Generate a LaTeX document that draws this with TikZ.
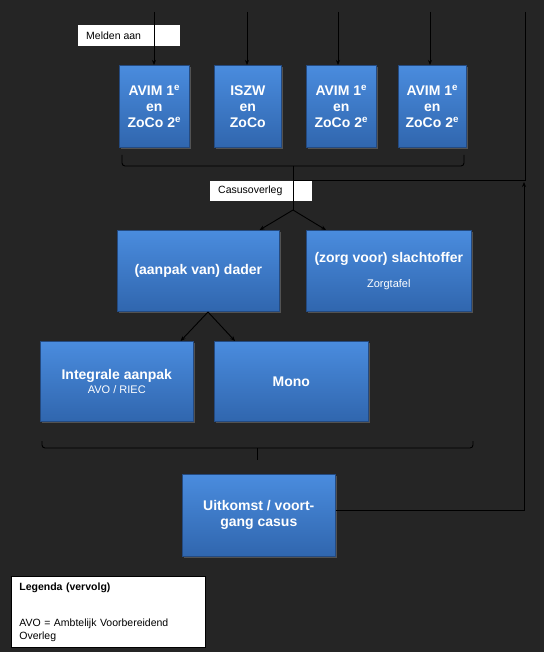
\documentclass[tikz,border=0pt]{standalone}
\usepackage{fontspec}
\setmainfont{Liberation Sans}
\usetikzlibrary{arrows.meta,shadows}
\definecolor{bgdark}{RGB}{37,37,37}
\definecolor{boxtop}{RGB}{74,140,222}
\definecolor{boxbot}{RGB}{48,102,174}
\definecolor{boxedge}{RGB}{36,74,128}
\newcommand{\subtxt}{\fontsize{11}{13}\selectfont\mdseries}
\begin{document}
\begin{tikzpicture}[x=1pt,y=-1pt,
    bluebox/.style={anchor=north west, inner sep=2pt, align=center,
      top color=boxtop, bottom color=boxbot, draw=boxedge, line width=0.6pt,
      drop shadow={shadow xshift=1.5pt, shadow yshift=-1.5pt, opacity=0.5},
      text=white, font=\fontsize{14}{16}\selectfont\bfseries},
    labelbox/.style={anchor=north west, fill=white, inner sep=0pt,
      font=\fontsize{10.5}{12}\selectfont, text=black},
    link/.style={draw=black, line width=0.9pt},
    arr/.style={link, -{Stealth[length=5pt,width=4pt]}}]
  \fill[bgdark] (0,0) rectangle (544,652);
  \useasboundingbox (0,0) rectangle (544,652);
  % Melden aan label
  \node[labelbox, minimum width=102pt, minimum height=21pt] (melden) at (78,25) {};
  \node[anchor=west, inner sep=0pt, font=\fontsize{10.5}{12}\selectfont] (meldtxt) at ([xshift=8pt]melden.west) {Melden aan};
  % Reporting parties
  \node[bluebox, minimum width=70pt, minimum height=82pt] (avim1) at (119,65) {AVIM 1\textsuperscript{e}\\en\\ZoCo 2\textsuperscript{e}};
  \node[bluebox, minimum width=67pt, minimum height=82pt] (iszw) at (214,65) {ISZW\\en\\ZoCo};
  \node[bluebox, minimum width=70pt, minimum height=82pt] (avim2) at (306,65) {AVIM 1\textsuperscript{e}\\en\\ZoCo 2\textsuperscript{e}};
  \node[bluebox, minimum width=68pt, minimum height=82pt] (avim3) at (398,65) {AVIM 1\textsuperscript{e}\\en\\ZoCo 2\textsuperscript{e}};
  % Incoming arrows
  \coordinate (in1) at (154,12);
  \coordinate (in2) at (247,12);
  \coordinate (in3) at (338,12);
  \coordinate (in4) at (430,12);
  \coordinate (in5) at (525,12);
  \draw[arr] (in1) -- (in1 |- avim1.north);
  \draw[arr] (in2) -- (in2 |- iszw.north);
  \draw[arr] (in3) -- (in3 |- avim2.north);
  \draw[arr] (in4) -- (in4 |- avim3.north);
  % Upper brace
  \coordinate (br1) at (293,166);
  \coordinate (split1) at (293,210);
  \coordinate (join1) at (293,180);
  \coordinate (corner1) at (525,180);
  \draw[link, rounded corners=3pt] (122,155) -- (122,166) -- (464,166) -- (464,155);
  \draw[link] (in5) -- (corner1) -- (join1);
  % Casusoverleg label
  \node[labelbox, minimum width=102pt, minimum height=20pt] (casus) at (210,181) {};
  \node[anchor=west, inner sep=0pt, font=\fontsize{10.5}{12}\selectfont] (casustxt) at ([xshift=8pt]casus.west) {Casusoverleg};
  \draw[link] (br1) -- (split1);
  % Dader and victim
  \node[bluebox, minimum width=162pt, minimum height=81pt] (dader) at (117,230) {(aanpak van) dader};
  \node[bluebox, minimum width=165pt, minimum height=81pt] (slacht) at (306,230) {(zorg voor) slachtoffer\\[9pt]{\subtxt Zorgtafel}};
  \draw[arr] (split1) -- ([xshift=-20pt]dader.north east);
  \draw[arr] (split1) -- ([xshift=20pt]slacht.north west);
  % Approach
  \node[bluebox, minimum width=153pt, minimum height=80pt] (integraal) at (40,341) {Integrale aanpak\\[-2pt]{\subtxt AVO / RIEC}};
  \node[bluebox, minimum width=154pt, minimum height=80pt] (mono) at (214,341) {Mono};
  \coordinate (split2) at (208,312);
  \draw[arr] (split2) -- ([xshift=-13pt]integraal.north east);
  \draw[arr] (split2) -- ([xshift=21pt]mono.north west);
  % Lower brace
  \coordinate (br2) at (257,448);
  \coordinate (tick2) at (257,460);
  \draw[link, rounded corners=3pt] (42,441) -- (42,448) -- (473,448) -- (473,441);
  \draw[link] (br2) -- (tick2);
  % Outcome and feedback
  \node[bluebox, minimum width=153pt, minimum height=82pt] (uitkomst) at (182,474) {Uitkomst / voort-\\gang casus};
  \coordinate (back1) at (524,510);
  \coordinate (back2) at (524,182);
  \draw[arr] (uitkomst.east |- back1) -- (back1) -- (back2);
  % Legend
  \node[anchor=north west, fill=white, draw=black, line width=0.8pt, minimum width=194pt, minimum height=71pt,
    inner xsep=7pt, text width=178pt, align=left, font=\fontsize{10.5}{13}\selectfont] (legenda) at (11,576)
    {\textbf{Legenda (vervolg)}\\[23pt]AVO = Ambtelijk Voorbereidend Overleg};
\end{tikzpicture}
\end{document}
